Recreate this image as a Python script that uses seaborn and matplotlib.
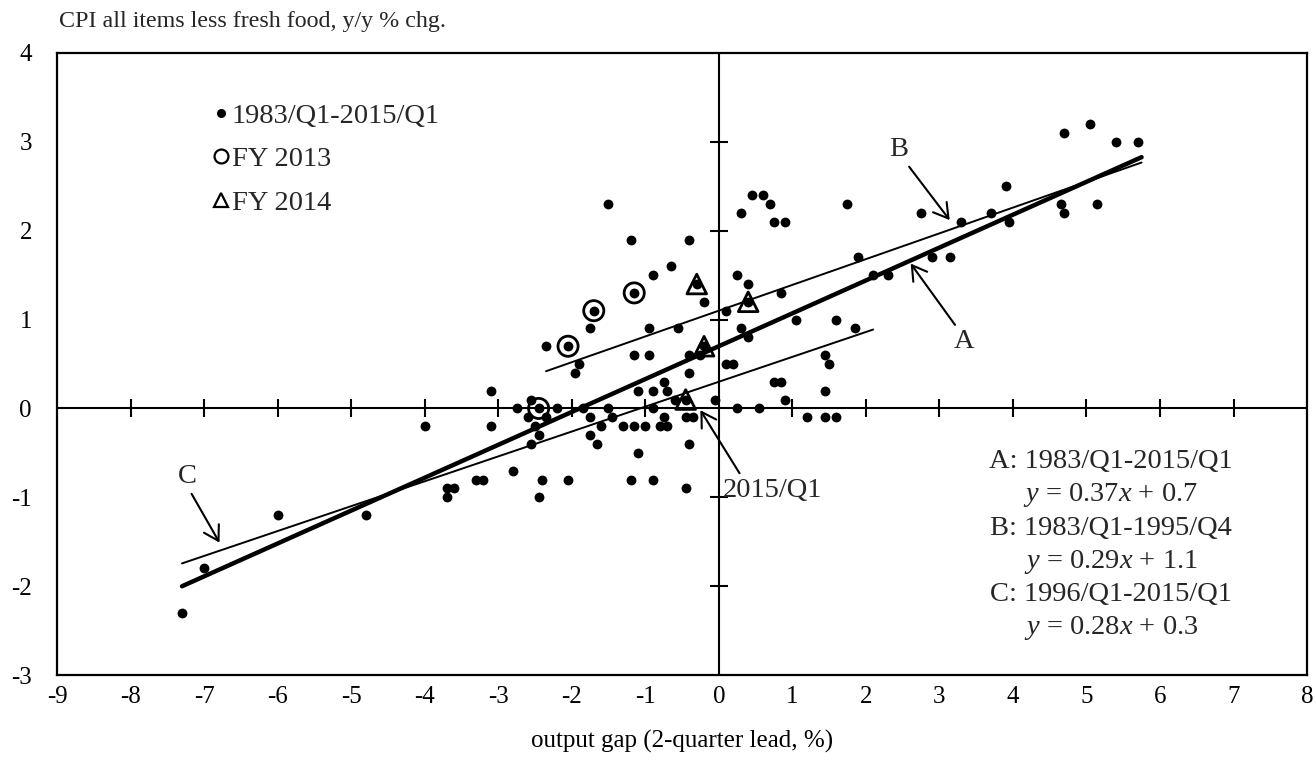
import matplotlib
matplotlib.use("Agg")
import matplotlib.pyplot as plt
import numpy as np
import seaborn as sns
from matplotlib.lines import Line2D

# output gap (2-quarter lead, %) and CPI less fresh food (y/y %), 1983/Q1-2015/Q1
gap = [
    -7.3, -7.0, -6.0, -4.8, -4.0, -3.7, -3.6, -3.7, -3.3, -3.2,
    -3.1, -3.1, -2.8, -2.75, -2.55, -2.45, -2.6, -2.35, -2.5, -2.45,
    -2.55, -2.4, -2.45, -2.2, -2.05, -1.85, -1.75, -1.75, -1.65, -1.6,
    -1.5, -1.45, -1.3, -1.15, -1.0, -1.1, -1.2, -0.9, -0.9, -0.75,
    -0.8, -0.7, -0.45, -0.35, -0.4, -0.45, -0.05, -0.6, -1.1, -0.9,
    -0.7, -0.75, -0.4, -0.4, -0.25, -1.15, -0.95, -1.9, -1.95, -2.35,
    -2.05, -1.75, -0.95, -0.55, -1.7, -1.15, -0.9, -0.65, -1.2, -0.4,
    -1.5, -0.3, -0.2, 0.1, -0.45, 0.25, 0.4, 0.4, 0.3, 0.45,
    0.6, 0.7, 0.75, 0.9, 0.85, 1.05, 1.6, 1.85, 1.75, 1.9,
    2.1, 2.3, 2.75, 2.9, 3.15, 3.3, 3.7, 3.9, 3.95, 4.7,
    5.05, 5.4, 5.7, 4.65, 4.7, 5.15, 0.3, 0.4, 0.1, 0.2,
    1.45, 1.5, 0.75, 0.85, 0.9, 1.45, 0.25, 0.55, 1.2, 1.45,
    1.6, -0.2,
]
cpi = [
    -2.3, -1.8, -1.2, -1.2, -0.2, -0.9, -0.9, -1.0, -0.8, -0.8,
    0.2, -0.2, -0.7, 0.0, 0.1, 0.0, -0.1, -0.1, -0.2, -0.3,
    -0.4, -0.8, -1.0, 0.0, -0.8, 0.0, -0.1, -0.3, -0.4, -0.2,
    0.0, -0.1, -0.2, -0.2, -0.2, -0.5, -0.8, -0.8, 0.0, -0.1,
    -0.2, -0.2, -0.1, -0.1, -0.4, -0.9, 0.1, 0.1, 0.2, 0.2,
    0.2, 0.3, 0.4, 0.6, 0.6, 0.6, 0.6, 0.5, 0.4, 0.7,
    0.7, 0.9, 0.9, 0.9, 1.1, 1.3, 1.5, 1.6, 1.9, 1.9,
    2.3, 1.4, 1.2, 1.1, 0.1, 1.5, 1.4, 1.2, 2.2, 2.4,
    2.4, 2.3, 2.1, 2.1, 1.3, 1.0, 1.0, 0.9, 2.3, 1.7,
    1.5, 1.5, 2.2, 1.7, 1.7, 2.1, 2.2, 2.5, 2.1, 3.1,
    3.2, 3.0, 3.0, 2.3, 2.2, 2.3, 0.9, 0.8, 0.5, 0.5,
    0.6, 0.5, 0.3, 0.3, 0.1, 0.2, 0.0, 0.0, -0.1, -0.1,
    -0.1, 0.7,
]

fy2013_gap = [-2.05, -1.7, -1.15, -2.45]
fy2013_cpi = [0.7, 1.1, 1.3, 0.0]
fy2014_gap = [-0.3, 0.4, -0.2, -0.45]
fy2014_cpi = [1.4, 1.2, 0.7, 0.1]

fit_names = ["A", "B", "C"]
fit_periods = ["1983/Q1-2015/Q1", "1983/Q1-1995/Q4", "1996/Q1-2015/Q1"]
fit_slopes = [0.37, 0.29, 0.28]
fit_intercepts = [0.7, 1.1, 0.3]
fit_xrange = [(-7.3, 5.75), (-2.35, 5.75), (-7.3, 2.1)]
fit_widths = [3.2, 1.4, 1.4]

x_ticks = list(range(-9, 9))
y_ticks = list(range(-3, 5))

sns.set_theme(style="white")
plt.rcParams["font.family"] = ["Liberation Serif", "DejaVu Serif"]
plt.rcParams["mathtext.fontset"] = "custom"
plt.rcParams["mathtext.rm"] = "Liberation Serif"
plt.rcParams["mathtext.it"] = "Liberation Serif:italic"
plt.rcParams["axes.unicode_minus"] = False
FS = 18      # tick labels, axis label
FS_TITLE = 17.3
FS_NOTE = 20.5   # legend, equations, line labels

fig = plt.figure(figsize=(13.16, 7.69), dpi=100)
ax = fig.add_axes([0.0433, 0.1222, 0.9499, 0.8089])

# zero axes with crossing ticks
ax.axhline(0, color="black", lw=1.5, zorder=1)
ax.axvline(0, color="black", lw=1.5, zorder=1)
inner_x = [t for t in x_ticks if t not in (x_ticks[0], x_ticks[-1], 0)]
inner_y = [t for t in y_ticks if t not in (y_ticks[0], y_ticks[-1], 0)]
ax.plot(inner_x, np.zeros(len(inner_x)), ls="none", marker="|", ms=13, mew=1.5, color="black")
ax.plot(np.zeros(len(inner_y)), inner_y, ls="none", marker="_", ms=13, mew=1.5, color="black")

# regression lines
for slope, icpt, (x0, x1), lw in zip(fit_slopes, fit_intercepts, fit_xrange, fit_widths):
    xs = np.array([x0, x1])
    sns.lineplot(x=xs, y=slope * xs + icpt, color="black", lw=lw, ax=ax, zorder=3)

sns.scatterplot(x=gap, y=cpi, s=50, color="black", edgecolor="black", linewidth=0, ax=ax, zorder=4)
sns.scatterplot(x=fy2013_gap, y=fy2013_cpi, marker="o", s=210, color="black",
                edgecolor="black", linewidth=2, ax=ax, zorder=5)
ax.collections[-1].set_facecolor("none")
sns.scatterplot(x=fy2014_gap, y=fy2014_cpi, marker="^", s=200, color="black",
                edgecolor="black", linewidth=2, ax=ax, zorder=5)
ax.collections[-1].set_facecolor("none")

ax.set_xlim(-9, 8)
ax.set_ylim(-3, 4)
ax.set_xticks(x_ticks)
ax.set_yticks(y_ticks)
ax.tick_params(axis="both", length=0, labelsize=FS, colors="black")
ax.tick_params(axis="y", pad=18)
ax.tick_params(axis="x", pad=8)
for s in ax.spines.values():
    s.set_color("black")
    s.set_linewidth(1.6)
ax.set_xlabel("output gap (2-quarter lead, %)", fontsize=FS, labelpad=16, color="black")
ax.set_ylabel("")
ax.text(0.002, 1.05, "CPI all items less fresh food, y/y % chg.", transform=ax.transAxes,
        fontsize=FS_TITLE, ha="left", va="center")

# legend
handles = [
    Line2D([], [], ls="none", marker="o", ms=5.5, color="black"),
    Line2D([], [], ls="none", marker="o", ms=10, mfc="none", mec="black", mew=1.6),
    Line2D([], [], ls="none", marker="^", ms=10, mfc="none", mec="black", mew=1.6),
]
ax.legend(handles, ["1983/Q1-2015/Q1", "FY 2013", "FY 2014"], loc="upper left",
          bbox_to_anchor=(0.124, 0.92), frameon=False, fontsize=FS_NOTE, borderpad=0,
          borderaxespad=0, handlelength=0.6, handletextpad=0.1, labelspacing=0.62)

# line labels with arrows
arrow = dict(arrowstyle="->,head_length=0.5,head_width=0.3", color="black", lw=1.5, shrinkA=1, shrinkB=0)
ax.annotate("B", xy=(3.14, 2.12), xytext=(2.44, 2.91), fontsize=FS_NOTE, ha="center", va="center",
            arrowprops=dict(arrow, relpos=(0.9, 0.0)))
ax.annotate("A", xy=(2.61, 1.63), xytext=(3.34, 0.75), fontsize=FS_NOTE, ha="center", va="center",
            arrowprops=dict(arrow, relpos=(0.2, 1.0)))
ax.annotate("C", xy=(-6.79, -1.51), xytext=(-7.23, -0.77), fontsize=FS_NOTE, ha="center", va="center",
            arrowprops=dict(arrow, relpos=(0.6, 0.0)))
ax.annotate("2015/Q1", xy=(-0.25, -0.02), xytext=(0.06, -0.92), fontsize=FS_NOTE, ha="left", va="center",
            arrowprops=dict(arrow, relpos=(0.2, 0.95)))

# regression equations
eq_lines = []
for name, period, slope, icpt in zip(fit_names, fit_periods, fit_slopes, fit_intercepts):
    eq_lines.append(f"{name}: {period}")
    eq_lines.append(f"$y$ = {slope:.2f}$x$ + {icpt:.1f}")
for i, line in enumerate(eq_lines):
    ax.text(0.843, 0.343 - i * 0.0535, line, transform=ax.transAxes, fontsize=FS_NOTE,
            ha="center", va="center")

fig.savefig("out.png", dpi=100)
